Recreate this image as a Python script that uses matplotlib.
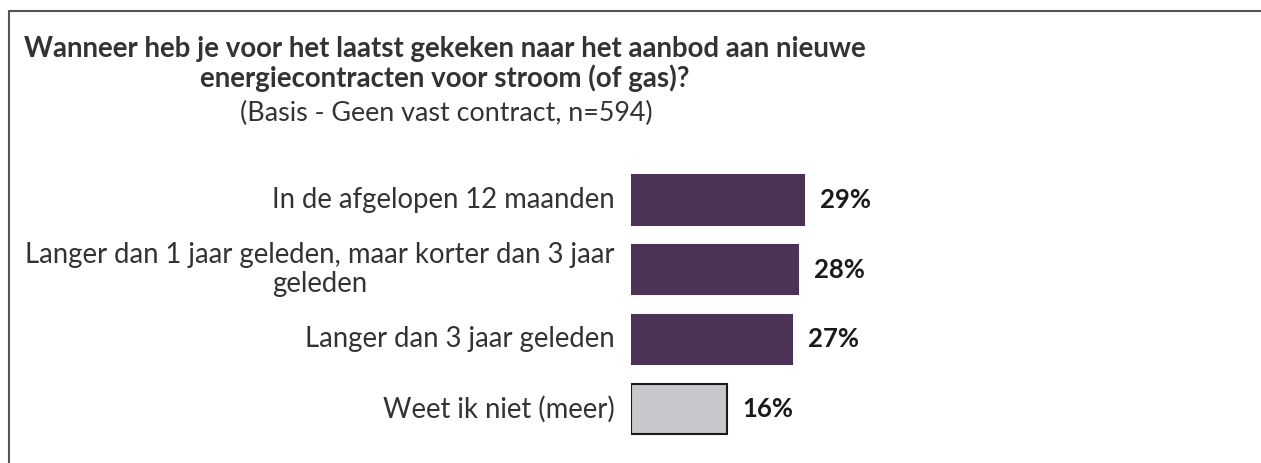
import matplotlib.pyplot as plt
from matplotlib.lines import Line2D

# gegevens
categorieen = [
    "In de afgelopen 12 maanden",
    "Langer dan 1 jaar geleden, maar korter dan 3 jaar\ngeleden",
    "Langer dan 3 jaar geleden",
    "Weet ik niet (meer)",
]
percentages = [29, 28, 27, 16]
kleuren = ["#4b3355", "#4b3355", "#4b3355", "#c8c7cc"]
randen = ["#4b3355", "#4b3355", "#4b3355", "#1a1a1a"]

titel = ("Wanneer heb je voor het laatst gekeken naar het aanbod aan nieuwe\n"
         "energiecontracten voor stroom (of gas)?")
subtitel = "(Basis - Geen vast contract, n=594)"

plt.rcParams['font.family'] = ['Lato', 'DejaVu Sans']

W, H = 1261, 463
fig = plt.figure(figsize=(W / 100, H / 100), dpi=100)

# assen in pixels: balken beginnen op x=631, centra van 200 tot 409
links, rechts = 631, 1231
boven, onder = 165, 444
ax = fig.add_axes([links / W, 1 - onder / H, (rechts - links) / W, (onder - boven) / H])

y = list(range(len(categorieen)))
ax.barh(y, percentages, height=0.71, color=kleuren, edgecolor=randen, linewidth=1.5)
ax.set_xlim(0, (rechts - links) / 5.97)
ax.set_ylim(len(categorieen) - 0.5, -0.5)
ax.axis('off')

for i, (cat, p) in enumerate(zip(categorieen, percentages)):
    ax.text(-2.8, i, cat, ha='right', va='center', multialignment='center',
            fontsize=19.8, color='#333333', linespacing=1.15)
    ax.text(p + 2.6, i, f"{p}%", ha='left', va='center', fontsize=18.5,
            fontweight='bold', color='#1a1a1a')

# titel en subtitel
fig.text(445 / W, 1 - 64 / H, titel, ha='center', va='center', fontsize=19.9,
         fontweight='bold', color='#333333', linespacing=1.15)
fig.text(446 / W, 1 - 113 / H, subtitel, ha='center', va='center', fontsize=19.4,
         color='#333333')

# kader links en boven
bx, by = 8.5 / W, 1 - 11 / H
fig.add_artist(Line2D([bx, bx, 1], [0, by, by], transform=fig.transFigure,
                      color='#555555', linewidth=1.5))

fig.savefig("out.png", dpi=100)
